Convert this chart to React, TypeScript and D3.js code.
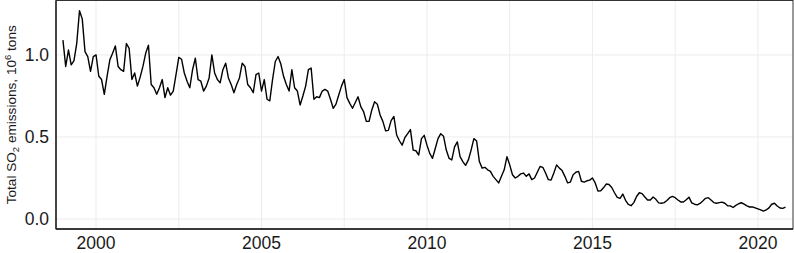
import React from "react";
import * as d3 from "d3";

const startYear = 1999;
const v1999 = [1.09, 0.93, 1.03, 0.94, 0.965, 1.07, 1.27, 1.22, 1.02, 0.99, 0.9, 0.99];
const v2000 = [1.0, 0.87, 0.85, 0.76, 0.87, 0.97, 1.01, 1.055, 0.93, 0.91, 0.9, 1.07];
const v2001 = [1.04, 0.85, 0.89, 0.81, 0.865, 0.93, 1.01, 1.06, 0.82, 0.8, 0.76, 0.8];
const v2002 = [0.85, 0.74, 0.8, 0.755, 0.78, 0.88, 0.985, 0.974, 0.89, 0.84, 0.8, 0.91];
const v2003 = [0.98, 0.85, 0.84, 0.78, 0.81, 0.86, 1.0, 0.89, 0.85, 0.83, 0.91, 0.95];
const v2004 = [0.86, 0.82, 0.77, 0.82, 0.86, 0.95, 0.93, 0.82, 0.8, 0.77, 0.88, 0.89];
const v2005 = [0.78, 0.85, 0.73, 0.72, 0.85, 0.96, 0.99, 0.945, 0.87, 0.82, 0.78, 0.91];
const v2006 = [0.8, 0.78, 0.695, 0.75, 0.81, 0.91, 0.92, 0.73, 0.745, 0.74, 0.78, 0.79];
const v2007 = [0.78, 0.73, 0.675, 0.7, 0.756, 0.81, 0.85, 0.74, 0.705, 0.675, 0.71, 0.745];
const v2008 = [0.685, 0.655, 0.595, 0.595, 0.665, 0.715, 0.7, 0.634, 0.595, 0.537, 0.54, 0.6];
const v2009 = [0.625, 0.512, 0.477, 0.45, 0.497, 0.52, 0.545, 0.42, 0.416, 0.39, 0.49, 0.51];
const v2010 = [0.45, 0.4, 0.37, 0.43, 0.49, 0.52, 0.505, 0.42, 0.37, 0.36, 0.44, 0.47];
const v2011 = [0.38, 0.35, 0.327, 0.36, 0.42, 0.49, 0.475, 0.35, 0.31, 0.315, 0.3, 0.29];
const v2012 = [0.26, 0.24, 0.22, 0.26, 0.3, 0.38, 0.33, 0.27, 0.25, 0.26, 0.275, 0.28];
const v2013 = [0.26, 0.275, 0.24, 0.25, 0.285, 0.32, 0.315, 0.28, 0.24, 0.238, 0.28, 0.33];
const v2014 = [0.31, 0.295, 0.26, 0.22, 0.225, 0.27, 0.285, 0.29, 0.23, 0.225, 0.233, 0.237];
const v2015 = [0.25, 0.22, 0.17, 0.172, 0.19, 0.213, 0.21, 0.192, 0.16, 0.132, 0.126, 0.152];
const v2016 = [0.114, 0.089, 0.081, 0.1, 0.137, 0.16, 0.155, 0.134, 0.116, 0.116, 0.134, 0.12];
const v2017 = [0.098, 0.096, 0.1, 0.113, 0.13, 0.138, 0.13, 0.116, 0.104, 0.104, 0.117, 0.133];
const v2018 = [0.098, 0.09, 0.086, 0.095, 0.11, 0.126, 0.13, 0.116, 0.1, 0.096, 0.1, 0.103];
const v2019 = [0.096, 0.081, 0.08, 0.07, 0.083, 0.093, 0.099, 0.091, 0.08, 0.073, 0.074, 0.068];
const v2020 = [0.062, 0.055, 0.048, 0.055, 0.068, 0.09, 0.096, 0.079, 0.067, 0.065, 0.072];

const yearly = [v1999, v2000, v2001, v2002, v2003, v2004, v2005, v2006, v2007, v2008, v2009,
  v2010, v2011, v2012, v2013, v2014, v2015, v2016, v2017, v2018, v2019, v2020];

const xTicks = [2000, 2005, 2010, 2015, 2020];
const xGrid = [2000, 2002.5, 2005, 2007.5, 2010, 2012.5, 2015, 2017.5, 2020];
const yTicks = [0, 0.5, 1.0];

const W = 794, H = 253;
const L = 56, R = 793, T = 0.5, B = 229;

export default function App() {
  const data: { t: number; v: number }[] = [];
  yearly.forEach((arr, yi) => arr.forEach((v, m) => data.push({ t: startYear + yi + m / 12, v })));

  const x = d3.scaleLinear().domain([1998.79, 2021.06]).range([L, R]);
  const y = d3.scaleLinear().domain([-0.061, 1.335]).range([B, 0]);
  const line = d3.line<{ t: number; v: number }>().x(d => x(d.t)).y(d => y(d.v));
  const font = "'Liberation Sans', Arial, Helvetica, sans-serif";

  return (
    <svg width={W} height={H} style={{ position: "absolute", left: 0, top: 0, background: "#fff" }} fontFamily={font}>
      <rect x={0} y={0} width={W} height={H} fill="#fff" />
      {xGrid.map(g => (
        <line key={"gx" + g} x1={x(g)} x2={x(g)} y1={T} y2={B} stroke="#ececec" strokeWidth={1} />
      ))}
      {yTicks.map(g => (
        <line key={"gy" + g} x1={L} x2={R} y1={y(g)} y2={y(g)} stroke="#ececec" strokeWidth={1} />
      ))}
      <path d={line(data) || ""} fill="none" stroke="#000" strokeWidth={1.4} strokeLinejoin="round" />
      <rect x={L} y={T} width={R - L} height={B - T} fill="none" stroke="#333" strokeWidth={1} />
      <line x1={L} x2={L} y1={T} y2={B} stroke="#1a1a1a" strokeWidth={1.3} />
      <line x1={L} x2={R} y1={B} y2={B} stroke="#1a1a1a" strokeWidth={1.3} />
      {yTicks.map(t => (
        <text key={"ty" + t} x={49} y={y(t)} dy="0.36em" textAnchor="end" fontSize={17.5} fill="#1a1a1a">
          {d3.format(".1f")(t)}
        </text>
      ))}
      {xTicks.map(t => (
        <text key={"tx" + t} x={x(t)} y={249.3} textAnchor="middle" fontSize={17.5} fill="#1a1a1a">
          {t}
        </text>
      ))}
      <text transform={`translate(16,${(T + B) / 2}) rotate(-90)`} textAnchor="middle" fontSize={13.6} fill="#1a1a1a">
        Total SO<tspan fontSize={9.5} dy={3}>2</tspan>
        <tspan dy={-3}> emissions, 10</tspan>
        <tspan fontSize={9.5} dy={-5.5}>6</tspan>
        <tspan dy={5.5}> tons</tspan>
      </text>
    </svg>
  );
}
